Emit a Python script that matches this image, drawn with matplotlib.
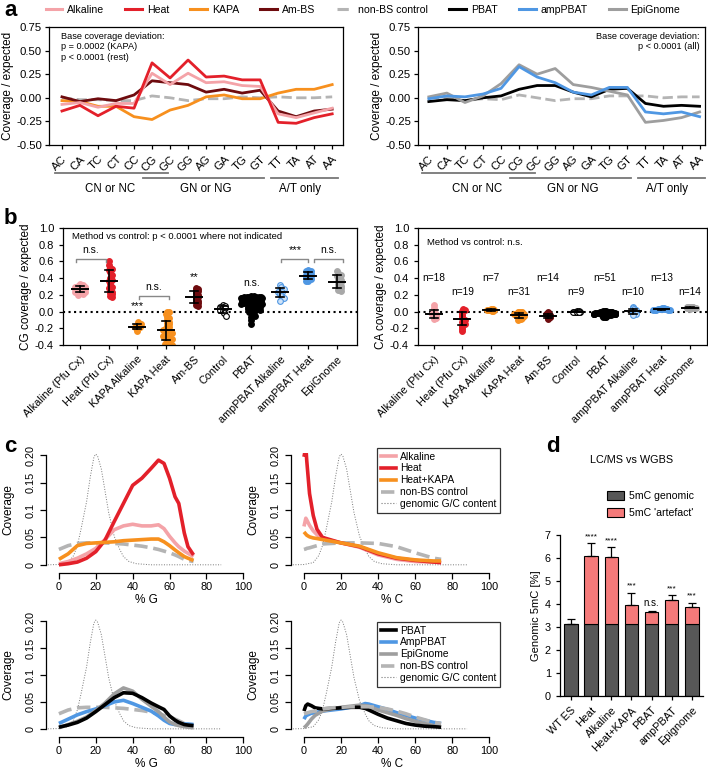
import matplotlib
matplotlib.use("Agg")
import matplotlib.pyplot as plt
from matplotlib.lines import Line2D
import numpy as np

plt.rcParams.update({
    "font.family": ["Liberation Sans", "DejaVu Sans"],
    "font.size": 8,
    "axes.linewidth": 0.9,
    "xtick.major.width": 0.9,
    "ytick.major.width": 0.9,
    "xtick.labelsize": 8,
    "ytick.labelsize": 8,
})

W, H = 708, 770

# ---------------------------------------------------------------- colours
C_ALK = "#f4a3a8"
C_HEAT = "#e3202a"
C_KAPA = "#f7901e"
C_AMBS = "#6e0b0e"
C_CTRL = "#b4b4b4"
C_PBAT = "#000000"
C_AMP = "#4f97e3"
C_EPI = "#9e9e9e"

# ---------------------------------------------------------------- panel a data
dinuc = ["AC", "CA", "TC", "CT", "CC", "CG", "GC", "GG",
         "AG", "GA", "TG", "GT", "TT", "TA", "AT", "AA"]
a_heat = [-0.14, -0.08, -0.19, -0.09, -0.11, 0.37, 0.21, 0.40,
          0.22, 0.23, 0.19, 0.19, -0.26, -0.27, -0.21, -0.17]
a_alk = [-0.07, -0.05, -0.10, -0.06, -0.06, 0.26, 0.14, 0.26,
         0.16, 0.17, 0.13, 0.12, -0.17, -0.21, -0.16, -0.11]
a_ambs = [0.01, -0.04, -0.01, -0.03, 0.03, 0.18, 0.16, 0.14,
          0.06, 0.09, 0.05, 0.08, -0.14, -0.20, -0.14, -0.12]
a_kapa = [-0.03, -0.04, -0.09, -0.09, -0.20, -0.23, -0.13, -0.08,
          0.01, 0.03, -0.01, -0.01, 0.05, 0.09, 0.09, 0.14]
a_ctrl_l = [0.00, -0.02, -0.02, -0.03, -0.03, 0.02, 0.00, -0.03,
            -0.01, -0.01, 0.01, 0.00, 0.01, 0.00, 0.00, 0.01]
a_pbat = [-0.04, -0.02, -0.03, 0.00, 0.02, 0.09, 0.13, 0.13,
          0.06, 0.01, 0.09, 0.10, -0.06, -0.09, -0.08, -0.09]
a_amp = [-0.01, 0.02, 0.01, 0.04, 0.10, 0.33, 0.22, 0.16,
         0.06, 0.03, 0.11, 0.11, -0.15, -0.17, -0.15, -0.20]
a_epi = [0.01, 0.05, -0.05, 0.02, 0.15, 0.35, 0.25, 0.31,
         0.14, 0.11, 0.07, 0.03, -0.26, -0.24, -0.21, -0.15]
a_ctrl_r = [0.00, 0.00, -0.03, -0.01, -0.02, 0.03, 0.00, -0.03,
            -0.01, -0.01, 0.02, 0.02, 0.02, 0.00, 0.01, 0.01]
a_groups = [("CN or NC", -0.4, 5.9, -0.237, 2.7),
            ("GN or NG", 4.5, 11.2, -0.28, 8.0),
            ("A/T only", 11.6, 15.3, -0.28, 13.2)]

# ---------------------------------------------------------------- panel b data
b_labels = ["Alkaline (Pfu Cx)", "Heat (Pfu Cx)", "KAPA Alkaline", "KAPA Heat",
            "Am-BS", "Control", "PBAT", "ampPBAT Alkaline", "ampPBAT Heat", "EpiGnome"]
cg_alk = [0.33, 0.32, 0.31, 0.30, 0.30, 0.29, 0.28, 0.28, 0.27, 0.27,
          0.26, 0.26, 0.25, 0.24, 0.23, 0.22, 0.21, 0.20]
cg_heat = [0.60, 0.56, 0.52, 0.51, 0.50, 0.47, 0.44, 0.40, 0.38, 0.36,
           0.33, 0.30, 0.28, 0.26, 0.24, 0.22, 0.21, 0.19, 0.18]
cg_kapa_alk = [-0.13, -0.15, -0.17, -0.18, -0.19, -0.21, -0.23]
cg_kapa_heat = [0.00, -0.01, -0.03, -0.06, -0.08, -0.10, -0.12, -0.14, -0.15, -0.17,
                -0.18, -0.20, -0.21, -0.22, -0.23, -0.24, -0.25, -0.26, -0.27, -0.28,
                -0.29, -0.30, -0.31, -0.32, -0.33, -0.34, -0.36, -0.37, -0.38, -0.39, -0.40]
cg_ambs = [0.28, 0.27, 0.26, 0.25, 0.22, 0.20, 0.19, 0.17, 0.15, 0.13,
           0.11, 0.10, 0.08, 0.07]
cg_ctrl = [0.08, 0.07, 0.06, 0.05, 0.04, 0.02, 0.01, -0.02, -0.05]
cg_pbat = [0.19, 0.19, 0.18, 0.18, 0.18, 0.17, 0.17, 0.17, 0.16, 0.16,
           0.16, 0.15, 0.15, 0.15, 0.14, 0.14, 0.14, 0.13, 0.13, 0.13,
           0.12, 0.12, 0.12, 0.11, 0.11, 0.11, 0.10, 0.10, 0.10, 0.09,
           0.09, 0.08, 0.08, 0.07, 0.07, 0.06, 0.06, 0.05, 0.05, 0.04,
           0.04, 0.03, 0.02, 0.01, 0.00, -0.01, -0.03, -0.05, -0.07, -0.10, -0.15]
cg_amp_alk = [0.32, 0.29, 0.27, 0.25, 0.24, 0.23, 0.21, 0.19, 0.16, 0.13]
cg_amp_heat = [0.50, 0.49, 0.48, 0.46, 0.45, 0.44, 0.43, 0.42, 0.41, 0.40, 0.39, 0.37, 0.36]
cg_epi = [0.48, 0.46, 0.44, 0.42, 0.40, 0.38, 0.36, 0.35, 0.33, 0.31,
          0.29, 0.28, 0.26, 0.25]

ca_alk = [0.08, 0.04, 0.02, 0.00, -0.01, -0.02, -0.03, -0.03, -0.04, -0.04,
          -0.05, -0.05, -0.06, -0.06, -0.07, -0.08, -0.08, -0.09]
ca_heat = [0.03, 0.02, 0.01, 0.00, -0.02, -0.04, -0.05, -0.06, -0.07, -0.08,
           -0.09, -0.10, -0.12, -0.14, -0.15, -0.17, -0.19, -0.21, -0.23]
ca_kapa_alk = [0.03, 0.03, 0.02, 0.02, 0.02, 0.01, 0.01]
ca_kapa_heat = [0.00, 0.00, -0.01, -0.01, -0.01, -0.02, -0.02, -0.02, -0.03, -0.03,
                -0.03, -0.03, -0.04, -0.04, -0.04, -0.04, -0.04, -0.05, -0.05, -0.05,
                -0.05, -0.06, -0.06, -0.06, -0.07, -0.07, -0.08, -0.08, -0.09, -0.09, -0.10]
ca_ambs = [-0.01, -0.02, -0.03, -0.03, -0.04, -0.04, -0.05, -0.05, -0.06, -0.06,
           -0.07, -0.07, -0.08, -0.09]
ca_ctrl = [0.01, 0.01, 0.00, 0.00, 0.00, 0.00, 0.00, -0.01, -0.01]
ca_pbat = [0.01, 0.01, 0.01, 0.00, 0.00, 0.00, 0.00, 0.00, 0.00, -0.01,
           -0.01, -0.01, -0.01, -0.01, -0.01, -0.01, -0.01, -0.02, -0.02, -0.02,
           -0.02, -0.02, -0.02, -0.02, -0.02, -0.02, -0.02, -0.02, -0.02, -0.02,
           -0.03, -0.03, -0.03, -0.03, -0.03, -0.03, -0.03, -0.03, -0.03, -0.04,
           -0.04, -0.04, -0.04, -0.04, -0.04, -0.05, -0.05, -0.05, -0.06, -0.06, -0.06]
ca_amp_alk = [0.05, 0.04, 0.03, 0.02, 0.01, 0.00, -0.01, -0.02, -0.03, -0.04]
ca_amp_heat = [0.04, 0.04, 0.03, 0.03, 0.03, 0.03, 0.03, 0.03, 0.02, 0.02, 0.02, 0.02, 0.02]
ca_epi = [0.06, 0.06, 0.05, 0.05, 0.05, 0.05, 0.05, 0.04, 0.04, 0.04, 0.04, 0.04, 0.04, 0.03]

cg_sets = [cg_alk, cg_heat, cg_kapa_alk, cg_kapa_heat, cg_ambs,
           cg_ctrl, cg_pbat, cg_amp_alk, cg_amp_heat, cg_epi]
ca_sets = [ca_alk, ca_heat, ca_kapa_alk, ca_kapa_heat, ca_ambs,
           ca_ctrl, ca_pbat, ca_amp_alk, ca_amp_heat, ca_epi]
# (face, edge) per group
b_styles = [(C_ALK, C_ALK), (C_HEAT, C_HEAT), (C_KAPA, C_KAPA), (C_KAPA, C_KAPA),
            (C_AMBS, C_AMBS), ("white", "black"), ("black", "black"),
            ("#cfe3f8", C_AMP), (C_AMP, C_AMP), ("#a8a8a8", "#a8a8a8")]

# ---------------------------------------------------------------- panel c data
gc_x = [-6, 0, 5, 8, 10, 12, 15, 17, 19, 20, 21, 23, 25, 27, 30, 33, 35, 38, 42, 50, 60, 70, 80, 88]
gc_y = [0, 0.0005, 0.004, 0.017, 0.035, 0.065, 0.115, 0.16, 0.197, 0.202, 0.198, 0.175,
        0.135, 0.095, 0.052, 0.028, 0.015, 0.006, 0.002, 0, 0, 0, 0, 0]

g_x = [0, 5, 10, 15, 20, 25, 30, 35, 40, 45, 50, 54, 57, 60, 63, 65, 68, 70, 73]
g_heat = [0.0, 0.002, 0.005, 0.012, 0.024, 0.045, 0.079, 0.112, 0.145, 0.158, 0.176,
          0.191, 0.185, 0.158, 0.124, 0.112, 0.058, 0.033, 0.018]
g_alk = [0.002, 0.006, 0.012, 0.02, 0.030, 0.046, 0.064, 0.071, 0.074, 0.071, 0.071,
         0.073, 0.066, 0.052, 0.040, 0.033, 0.025, 0.021, 0.015]
g_kapa = [0.010, 0.020, 0.035, 0.039, 0.040, 0.041, 0.042, 0.044, 0.045, 0.046, 0.047,
          0.047, 0.042, 0.035, 0.027, 0.022, 0.015, 0.012, 0.008]
g_ctrl = [0.028, 0.035, 0.039, 0.040, 0.040, 0.040, 0.039, 0.038, 0.036, 0.034, 0.031,
          0.028, 0.025, 0.022, 0.018, 0.015, 0.010, 0.008, 0.006]

c_x = [0, 1, 1.5, 3, 5, 7, 10, 15, 20, 30, 40, 50, 60, 70, 74]
c_heat = [0.197, 0.215, 0.19, 0.13, 0.09, 0.065, 0.05, 0.045, 0.04, 0.033, 0.02,
          0.012, 0.008, 0.005, 0.004]
c_alk = [0.07, 0.085, 0.082, 0.072, 0.062, 0.055, 0.048, 0.044, 0.04, 0.032, 0.018,
         0.010, 0.006, 0.005, 0.004]
c_kapa = [0.06, 0.056, 0.054, 0.051, 0.049, 0.048, 0.046, 0.043, 0.04, 0.034, 0.022,
          0.013, 0.009, 0.007, 0.007]
c_ctrl = [0.028, 0.029, 0.03, 0.031, 0.033, 0.035, 0.038, 0.039, 0.04, 0.04, 0.039,
          0.033, 0.022, 0.012, 0.010]

g_pbat = [0.003, 0.007, 0.012, 0.020, 0.032, 0.045, 0.058, 0.067, 0.066, 0.058, 0.048,
          0.041, 0.036, 0.024, 0.016, 0.012, 0.008, 0.007, 0.006]
g_amp = [0.010, 0.018, 0.026, 0.032, 0.037, 0.043, 0.050, 0.053, 0.047, 0.040, 0.033,
         0.024, 0.016, 0.010, 0.008, 0.008, 0.009, 0.009, 0.008]
g_epi = [0.002, 0.008, 0.014, 0.022, 0.034, 0.048, 0.065, 0.076, 0.070, 0.055, 0.042,
         0.032, 0.022, 0.013, 0.008, 0.006, 0.004, 0.003, 0.002]

c2_x = [0, 1, 2, 4, 6, 10, 15, 20, 25, 30, 33, 35, 40, 45, 50, 55, 60, 65, 70, 74]
c_pbat = [0.033, 0.043, 0.046, 0.043, 0.039, 0.037, 0.038, 0.039, 0.040, 0.040, 0.038,
          0.035, 0.027, 0.020, 0.015, 0.010, 0.007, 0.005, 0.004, 0.003]
c_amp = [0.018, 0.024, 0.026, 0.029, 0.030, 0.033, 0.035, 0.037, 0.040, 0.043, 0.047,
         0.046, 0.041, 0.036, 0.030, 0.025, 0.020, 0.016, 0.012, 0.010]
c_epi = [0.002, 0.005, 0.009, 0.018, 0.025, 0.033, 0.037, 0.040, 0.042, 0.044, 0.043,
         0.042, 0.035, 0.030, 0.025, 0.019, 0.014, 0.010, 0.006, 0.004]
c2_ctrl = [0.028, 0.029, 0.030, 0.032, 0.033, 0.037, 0.039, 0.040, 0.041, 0.041, 0.041,
           0.041, 0.040, 0.037, 0.033, 0.028, 0.022, 0.017, 0.012, 0.010]

# ---------------------------------------------------------------- panel d data
d_labels = ["WT ES", "Heat", "Alkaline", "Heat+KAPA", "PBAT", "ampPBAT", "Epignome"]
d_genomic = [3.15, 3.15, 3.15, 3.15, 3.15, 3.15, 3.15]
d_total = [3.15, 6.09, 6.06, 3.96, 3.64, 4.16, 3.88]
d_err_top = [3.33, 6.64, 6.47, 4.50, 3.71, 4.40, 4.06]
d_sig = ["", "****", "****", "***", "n.s.", "***", "***"]


def add_ax(x0, y0, x1, y1):
    return fig.add_axes([x0 / W, 1 - y1 / H, (x1 - x0) / W, (y1 - y0) / H])


def swarm(vals, step, dx, maxw=0.36):
    vals = np.asarray(vals, dtype=float)
    offs = np.zeros(len(vals))
    bins = np.round(vals / step)
    for b in np.unique(bins):
        idx = np.where(bins == b)[0]
        shift = 0 if len(idx) % 2 else dx / 2
        for k, i in enumerate(idx):
            m = (k + 1) // 2 * (1 if k % 2 else -1)
            offs[i] = np.clip(m * dx + shift, -maxw, maxw)
    return offs


fig = plt.figure(figsize=(W / 100, H / 100), dpi=100)

# ================================================================ panel a
legend_items = [("Alkaline", C_ALK, "-"), ("Heat", C_HEAT, "-"), ("KAPA", C_KAPA, "-"),
                ("Am-BS", C_AMBS, "-"), ("non-BS control", C_CTRL, "--"),
                ("PBAT", C_PBAT, "-"), ("ampPBAT", C_AMP, "-"), ("EpiGnome", C_EPI, "-")]
handles = [Line2D([], [], color=c, ls=ls, lw=2.2) for _, c, ls in legend_items]
fig.legend(handles, [n for n, _, _ in legend_items], loc="upper left",
           bbox_to_anchor=(36 / W, 1.006), ncol=8, frameon=False, fontsize=7.6,
           handlelength=1.6, handletextpad=0.45, columnspacing=2.0)


def panel_a(ax, series, xlim, note, note_right):
    for vals, c, ls in series:
        ax.plot(range(len(dinuc)), vals, color=c, ls=ls, lw=2.0)
    ax.set_xlim(*xlim)
    ax.set_ylim(-0.5, 0.75)
    ax.set_yticks([-0.5, -0.25, 0, 0.25, 0.5, 0.75])
    ax.set_yticklabels(["-0.50", "-0.25", "0.00", "0.25", "0.50", "0.75"])
    ax.set_xticks(range(len(dinuc)))
    ax.set_xticklabels(dinuc, rotation=45, ha="right", rotation_mode="anchor")
    ax.tick_params(length=3, labelsize=8.2)
    ax.tick_params(axis="y", pad=2)
    ax.set_ylabel("Coverage / expected", fontsize=8.5, labelpad=1.5)
    if note_right:
        ax.text(0.98, 0.96, note, transform=ax.transAxes, ha="right", va="top", fontsize=6.6)
    else:
        ax.text(0.04, 0.96, note, transform=ax.transAxes, ha="left", va="top", fontsize=6.6)
    tr = ax.get_xaxis_transform()
    for name, x0, x1, yl, xc in a_groups:
        ax.plot([x0, x1], [yl, yl], color="#777777", lw=1.3, transform=tr, clip_on=False)
        ax.text(xc, -0.375, name, transform=tr, ha="center", va="center", fontsize=8.3)


ax_a1 = add_ax(49, 27, 343, 145)
panel_a(ax_a1, [(a_ctrl_l, C_CTRL, "--"), (a_kapa, C_KAPA, "-"), (a_ambs, C_AMBS, "-"),
                (a_alk, C_ALK, "-"), (a_heat, C_HEAT, "-")], (-0.72, 15.6),
        "Base coverage deviation:\np = 0.0002 (KAPA)\np < 0.0001 (rest)", False)
ax_a2 = add_ax(418, 27, 705, 145)
panel_a(ax_a2, [(a_ctrl_r, C_CTRL, "--"), (a_pbat, C_PBAT, "-"), (a_epi, C_EPI, "-"),
                (a_amp, C_AMP, "-")], (-0.6, 15.3),
        "Base coverage deviation:\np < 0.0001 (all)", True)

# ================================================================ panel b


def panel_b(ax, sets, step, dx, ylabel, xlim):
    for i, (vals, (fc, ec)) in enumerate(zip(sets, b_styles)):
        offs = swarm(vals, step, dx)
        ax.scatter(i + offs, vals, s=17, facecolor=fc, edgecolor=ec, lw=0.8, zorder=2)
        m = np.mean(vals)
        sd = np.std(vals, ddof=1)
        ax.plot([i - 0.28, i + 0.28], [m, m], color="black", lw=1.4, zorder=3)
        ax.plot([i, i], [m - sd, m + sd], color="black", lw=1.2, zorder=3)
        for y in (m - sd, m + sd):
            ax.plot([i - 0.14, i + 0.14], [y, y], color="black", lw=1.2, zorder=3)
    ax.axhline(0, color="black", ls=":", lw=1.5, zorder=1)
    ax.set_xlim(*xlim)
    ax.set_ylim(-0.4, 1.0)
    ax.set_yticks(np.arange(-0.4, 1.01, 0.2))
    ax.set_yticklabels([f"{v:.1f}" for v in np.arange(-0.4, 1.01, 0.2)])
    ax.set_xticks(range(len(b_labels)))
    ax.set_xticklabels(b_labels, rotation=45, ha="right", rotation_mode="anchor", fontsize=7.8)
    ax.tick_params(length=3)
    ax.set_ylabel(ylabel, fontsize=8.5, labelpad=2)


ax_b1 = add_ax(63, 228, 357, 345)
panel_b(ax_b1, cg_sets, 0.035, 0.085, "CG coverage / expected", (-0.6, 9.7))
ax_b1.text(0.03, 0.93, "Method vs control: p < 0.0001 where not indicated",
           transform=ax_b1.transAxes, ha="left", va="center", fontsize=6.8)
brackets = [(-0.15, 0.9, 0.63, "n.s."), (2.05, 3.1, 0.19, "n.s."),
            (7.05, 8.0, 0.63, "***"), (8.2, 9.2, 0.63, "n.s.")]
for x0, x1, y, lab in brackets:
    ax_b1.plot([x0, x0, x1, x1], [y - 0.04, y, y, y - 0.04], color="#888888", lw=1.0)
    ax_b1.text((x0 + x1) / 2, y + 0.05, lab, ha="center", va="bottom",
               fontsize=8 if lab == "***" else 7.5)
for x, y, lab in [(2, 0.0, "***"), (4, 0.35, "**"), (6, 0.28, "n.s.")]:
    ax_b1.text(x, y, lab, ha="center", va="bottom", fontsize=8 if "*" in lab else 7.5)

ax_b2 = add_ax(418, 228, 707, 345)
panel_b(ax_b2, ca_sets, 0.012, 0.06, "CA coverage / expected", (-0.56, 9.6))
ax_b2.text(0.03, 0.88, "Method vs control: n.s.", transform=ax_b2.transAxes,
           ha="left", va="center", fontsize=6.8)
for i, vals in enumerate(ca_sets):
    ax_b2.text(i, 0.40 if i % 2 == 0 else 0.23, f"n={len(vals)}",
               ha="center", va="center", fontsize=7.3)

# ================================================================ panel c


def panel_c(ax, lines, xlab):
    ax.plot(gc_x, gc_y, color="#777777", ls=":", lw=0.7)
    for xs, ys, c, ls in lines:
        ax.plot(xs, ys, color=c, ls=ls, lw=2.6, solid_capstyle="butt")
    ax.set_xlim(-7, 102)
    ax.set_ylim(-0.004, 0.204)
    for s in ("top", "right"):
        ax.spines[s].set_visible(False)
    ax.spines["bottom"].set_position(("outward", 4))
    ax.spines["bottom"].set_bounds(0, 100)
    ax.spines["left"].set_bounds(0, 0.2)
    ax.set_xticks([0, 20, 40, 60, 80, 100])
    ax.set_yticks([0, 0.05, 0.1, 0.15, 0.2])
    ax.set_yticklabels(["0", "0.05", "0.1", "0.15", "0.20"], rotation=90, va="center")
    ax.tick_params(length=4, labelsize=7.8)
    ax.tick_params(axis="x", pad=2.5)
    ax.set_xlabel(xlab, fontsize=8.5, labelpad=2)
    ax.set_ylabel("Coverage", fontsize=8.5, labelpad=8)


ax_c1 = add_ax(46, 453, 247, 567)
panel_c(ax_c1, [(g_x, g_ctrl, C_CTRL, "--"), (g_x, g_alk, C_ALK, "-"),
                (g_x, g_heat, C_HEAT, "-"), (g_x, g_kapa, C_KAPA, "-")], "% G")
ax_c2 = add_ax(291, 453, 493, 567)
panel_c(ax_c2, [(c_x, c_ctrl, C_CTRL, "--"), (c_x, c_alk, C_ALK, "-"),
                (c_x, c_heat, C_HEAT, "-"), (c_x, c_kapa, C_KAPA, "-")], "% C")
ax_c3 = add_ax(46, 619, 247, 731)
panel_c(ax_c3, [(g_x, g_ctrl, C_CTRL, "--"), (g_x, g_amp, C_AMP, "-"),
                (g_x, g_epi, C_EPI, "-"), (g_x, g_pbat, C_PBAT, "-")], "% G")
ax_c4 = add_ax(291, 619, 493, 731)
panel_c(ax_c4, [(c2_x, c_amp, C_AMP, "-"), (c2_x, c_epi, C_EPI, "-"),
                (c2_x, c_pbat, C_PBAT, "-"), (c2_x, c2_ctrl, C_CTRL, "--")], "% C")


def c_legend(items, top_px):
    hs = [Line2D([], [], color=c, ls=ls, lw=lw) for _, c, ls, lw in items]
    leg = fig.legend(hs, [n for n, _, _, _ in items], loc="upper left",
                     bbox_to_anchor=(377 / W, 1 - top_px / H), fontsize=7.4,
                     frameon=True, fancybox=False, handlelength=1.5, handletextpad=0.4,
                     labelspacing=0.18, borderpad=0.35, borderaxespad=0)
    leg.get_frame().set_edgecolor("black")
    leg.get_frame().set_linewidth(0.9)


c_legend([("Alkaline", C_ALK, "-", 2.6), ("Heat", C_HEAT, "-", 2.6),
          ("Heat+KAPA", C_KAPA, "-", 2.6), ("non-BS control", C_CTRL, "--", 2.6),
          ("genomic G/C content", "#777777", ":", 0.8)], 448)
c_legend([("PBAT", C_PBAT, "-", 2.6), ("AmpPBAT", C_AMP, "-", 2.6),
          ("EpiGnome", C_EPI, "-", 2.6), ("non-BS control", C_CTRL, "--", 2.6),
          ("genomic G/C content", "#777777", ":", 0.8)], 622)

# ================================================================ panel d
ax_d = add_ax(560, 535, 703, 696)
xd = np.arange(len(d_labels))
art = np.array(d_total) - np.array(d_genomic)
ax_d.bar(xd, d_genomic, width=0.66, color="#575757", edgecolor="black", lw=0.8,
         label="5mC genomic")
ax_d.bar(xd, art, bottom=d_genomic, width=0.66, color="#f47a7a", edgecolor="black",
         lw=0.8, label="5mC 'artefact'")
ax_d.errorbar(xd, d_total, yerr=[np.zeros(len(xd)), np.array(d_err_top) - np.array(d_total)],
              fmt="none", ecolor="black", elinewidth=0.9, capsize=3, capthick=0.9)
for x, top, lab in zip(xd, d_err_top, d_sig):
    if lab:
        ax_d.text(x, top + 0.12, lab, ha="center", va="bottom", fontsize=6 if "*" in lab else 7,
                  clip_on=False)
ax_d.set_xlim(-0.54, 6.55)
ax_d.set_ylim(0, 7)
for s in ("top", "right"):
    ax_d.spines[s].set_visible(False)
ax_d.set_yticks(range(8))
ax_d.set_xticks(xd)
ax_d.set_xticklabels(d_labels, rotation=45, ha="right", rotation_mode="anchor", fontsize=7.8)
ax_d.tick_params(length=3, labelsize=7.8)
ax_d.set_ylabel("Genomic 5mC [%]", fontsize=8, labelpad=3)
fig.text(632 / W, 1 - 460 / H, "LC/MS vs WGBS", ha="center", va="center", fontsize=7.8)
ax_d.legend(loc="upper left", bbox_to_anchor=(607 / W, 1 - 491 / H),
            bbox_transform=fig.transFigure, frameon=False, fontsize=7.6,
            handlelength=1.6, handleheight=0.9, handletextpad=0.5, labelspacing=0.7,
            borderaxespad=0, borderpad=0)

# ================================================================ panel letters
for lab, x, y in [("a", 4, 11), ("b", 4, 218), ("c", 4, 447), ("d", 546, 447)]:
    fig.text(x / W, 1 - y / H, lab, fontsize=16, fontweight="bold", ha="left", va="center")

fig.savefig("out.png", dpi=100, facecolor="white")
